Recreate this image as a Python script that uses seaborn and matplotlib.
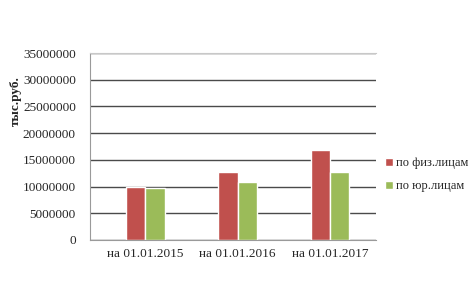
import matplotlib
matplotlib.use("Agg")
import matplotlib.pyplot as plt
import seaborn as sns
import pandas as pd

dates = ["на 01.01.2015", "на 01.01.2016", "на 01.01.2017"]
fiz = [10000000, 12700000, 16900000]
yur = [9700000, 10800000, 12700000]
series_names = ["по физ.лицам", "по юр.лицам"]
colors = ["#C0504D", "#9BBB59"]

df = pd.DataFrame({
    "date": dates * 2,
    "value": fiz + yur,
    "type": [series_names[0]] * 3 + [series_names[1]] * 3,
})

sns.set_style("white")
plt.rcParams["font.family"] = ["Liberation Serif", "DejaVu Serif"]

fig = plt.figure(figsize=(4.75, 2.82), dpi=100)
ax = fig.add_axes([0.189, 0.149, 0.603, 0.663])

sns.barplot(data=df, x="date", y="value", hue="type", palette=colors,
            width=0.42, saturation=1, ax=ax, legend=True)

ax.set_ylim(0, 35000000)
ax.set_xlim(-0.6, 2.5)
ax.set_yticks(range(0, 35000001, 5000000))
ax.set_yticklabels([str(v) for v in range(0, 35000001, 5000000)], fontsize=9.5)
ax.tick_params(axis="x", labelsize=9.5, length=0, pad=6)
ax.tick_params(axis="y", length=0, pad=10)
ax.yaxis.grid(True, color="#4a4a4a", lw=1)
ax.set_axisbelow(True)
ax.set_xlabel("")
ax.set_ylabel("")

ax.spines["right"].set_visible(False)
ax.spines["left"].set_color("#9a9a9a")
ax.spines["bottom"].set_color("#9a9a9a")
ax.spines["top"].set_color("#c8c8c8")

fig.text(0.033, 0.64, "тыс.руб.", rotation=90, fontsize=9.5, fontweight="bold",
         ha="center", va="center")

ax.get_legend().remove()
handles, labels = ax.get_legend_handles_labels()
fig.legend(handles[:2], labels[:2], loc="center left", bbox_to_anchor=(0.787, 0.38),
           frameon=False, fontsize=9, handlelength=0.6, handleheight=0.6,
           handletextpad=0.3, labelspacing=0.9)

fig.savefig("out.png", dpi=100)
